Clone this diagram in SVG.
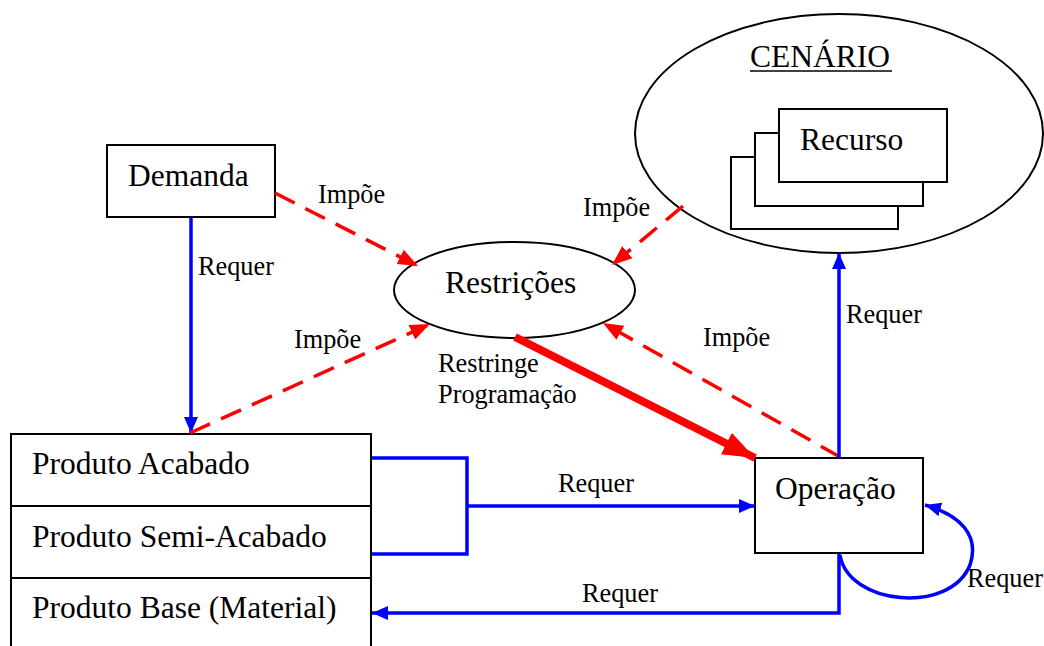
<svg xmlns="http://www.w3.org/2000/svg" width="1044" height="646" viewBox="0 0 1044 646">
<style>
.box{fill:#fff;stroke:#000;stroke-width:2}
.ell{fill:#fff;stroke:#000;stroke-width:2}
.main{font-family:"Liberation Serif","Times New Roman",serif;font-size:31.5px;fill:#000}
.lbl{font-family:"Liberation Serif","Times New Roman",serif;font-size:26.3px;fill:#000}
.blue{fill:none;stroke:#0000ff;stroke-width:3.5}
.dash{fill:none;stroke:#ff0000;stroke-width:3.5;stroke-dasharray:22 12}
.thick{fill:none;stroke:#ff0000;stroke-width:8}
</style>
<defs>
<marker id="bh" markerUnits="userSpaceOnUse" markerWidth="16" markerHeight="14" refX="16" refY="7" orient="auto" viewBox="0 0 16 14"><path d="M0,0 L16,7 L0,14 z" fill="#0000ff"/></marker>
<marker id="rh" markerUnits="userSpaceOnUse" markerWidth="20" markerHeight="16" refX="20" refY="8" orient="auto" viewBox="0 0 20 16"><path d="M0,0 L20,8 L0,16 z" fill="#ff0000"/></marker>
<marker id="rb" markerUnits="userSpaceOnUse" markerWidth="32" markerHeight="24" refX="32" refY="12" orient="auto" viewBox="0 0 32 24"><path d="M0,0 L32,12 L0,24 z" fill="#ff0000"/></marker>
</defs>

<g id="cenario">
<ellipse class="ell" cx="839" cy="133.5" rx="204" ry="119.5"/>
<text class="main" x="750" y="67">CENÁRIO</text>
<line x1="750" y1="71" x2="892" y2="71" stroke="#000" stroke-width="1.6"/>
</g>

<g id="recurso">
<rect class="box" x="731" y="157" width="167" height="72"/>
<rect class="box" x="755" y="133" width="168" height="73"/>
<rect class="box" x="779" y="109" width="168" height="73"/>
<text class="main" x="800" y="150">Recurso</text>
</g>

<g id="demanda">
<rect class="box" x="107" y="145" width="168" height="72"/>
<text class="main" x="128" y="186">Demanda</text>
</g>

<g id="restricoes">
<ellipse class="ell" cx="514.5" cy="290" rx="120.5" ry="48"/>
<text class="main" x="445" y="293">Restrições</text>
</g>

<g id="operacao">
<rect class="box" x="755" y="458" width="168" height="95"/>
<text class="main" x="775" y="499">Operação</text>
</g>

<g id="produtos">
<rect class="box" x="11" y="434" width="360" height="220"/>
<line x1="11" y1="506" x2="371" y2="506" stroke="#000" stroke-width="2"/>
<line x1="11" y1="578" x2="371" y2="578" stroke="#000" stroke-width="2"/>
<text class="main" x="32" y="474">Produto Acabado</text>
<text class="main" x="32" y="547">Produto Semi-Acabado</text>
<text class="main" x="32" y="618">Produto Base (Material)</text>
</g>

<g id="connectors">
<path class="blue" d="M191 217 V433" marker-end="url(#bh)"/>
<path class="dash" d="M275 193 L418 266" marker-end="url(#rh)"/>
<path class="dash" d="M190 433 L430 324" marker-end="url(#rh)"/>
<path class="dash" d="M683 206 L612 265" marker-end="url(#rh)"/>
<path class="dash" d="M840 457 L603 323" marker-end="url(#rh)"/>
<path class="thick" d="M515 337 L755 458" marker-end="url(#rb)"/>
<path class="blue" d="M372 458 H467 V554 H372"/>
<path class="blue" d="M467 506 H755" marker-end="url(#bh)"/>
<path class="blue" d="M839 458 V253" marker-end="url(#bh)"/>
<path class="blue" d="M839 553 V613 H372" marker-end="url(#bh)"/>
<path class="blue" d="M840 555 C848 605 950 615 970 565 C980 535 960 515 925 505" marker-end="url(#bh)"/>
</g>

<g id="labels">
<text class="lbl" x="198" y="275">Requer</text>
<text class="lbl" x="318" y="203">Impõe</text>
<text class="lbl" x="294" y="348">Impõe</text>
<text class="lbl" x="583" y="216">Impõe</text>
<text class="lbl" x="703" y="346">Impõe</text>
<text class="lbl" x="438" y="372">Restringe</text>
<text class="lbl" x="438" y="403">Programação</text>
<text class="lbl" x="558" y="492">Requer</text>
<text class="lbl" x="582" y="602">Requer</text>
<text class="lbl" x="846" y="323">Requer</text>
<text class="lbl" x="967" y="587">Requer</text>
</g>
</svg>
